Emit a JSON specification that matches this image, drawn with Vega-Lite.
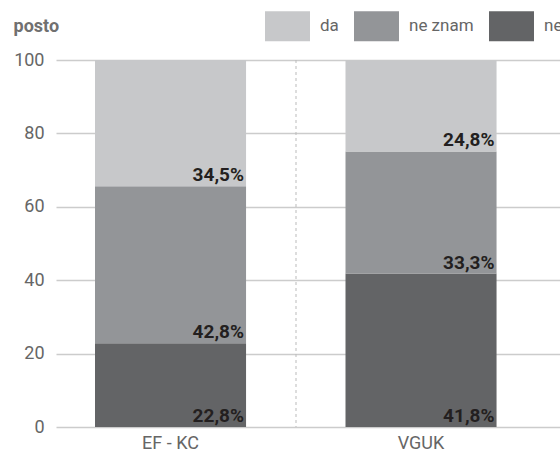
{
  "$schema": "https://vega.github.io/schema/vega-lite/v6.json",
  "autosize": "none",
  "width": 504,
  "height": 367,
  "padding": {"left": 56, "top": 60, "right": 0, "bottom": 24},
  "background": "white",
  "config": {
    "view": {"stroke": null},
    "font": "Roboto"
  },
  "datasets": {
    "bars": [
      {"cat": "EF - KC", "answer": "ne", "ord": 1, "value": 22.8, "lab": "22,8%"},
      {"cat": "EF - KC", "answer": "ne znam", "ord": 2, "value": 42.8, "lab": "42,8%"},
      {"cat": "EF - KC", "answer": "da", "ord": 3, "value": 34.5, "lab": "34,5%"},
      {"cat": "VGUK", "answer": "ne", "ord": 1, "value": 41.8, "lab": "41,8%"},
      {"cat": "VGUK", "answer": "ne znam", "ord": 2, "value": 33.3, "lab": "33,3%"},
      {"cat": "VGUK", "answer": "da", "ord": 3, "value": 24.8, "lab": "24,8%"}
    ],
    "sep": [{"cat": "VGUK"}]
  },
  "layer": [
    {
      "data": {"name": "bars"},
      "transform": [
        {"stack": "value", "groupby": ["cat"], "sort": [{"field": "ord", "order": "ascending"}], "as": ["v0", "v1"]}
      ],
      "mark": {"type": "bar"},
      "encoding": {
        "x": {
          "field": "cat", "type": "nominal", "sort": ["EF - KC", "VGUK"],
          "scale": {"paddingInner": 0.397, "paddingOuter": 0.2045, "align": 0.3807},
          "axis": {
            "title": null, "domain": false, "ticks": false, "grid": false,
            "labelAngle": 0, "labelPadding": 7, "labelFontSize": 18, "labelColor": "#666666",
            "labelFont": "Roboto"
          }
        },
        "y": {
          "field": "v0", "type": "quantitative",
          "scale": {"domain": [0, 100], "nice": false, "clamp": true},
          "axis": {
            "values": [0, 20, 40, 60, 80, 100],
            "domain": false, "ticks": false, "grid": true,
            "gridColor": "#cccccc", "gridWidth": 1.5,
            "labelPadding": 12, "labelFontSize": 18, "labelColor": "#666666",
            "labelFont": "Roboto",
            "title": "posto", "titleAngle": 0, "titleAlign": "left", "titleBaseline": "alphabetic",
            "titleX": -43, "titleY": -29, "titleFontSize": 18, "titleFontWeight": "bold",
            "titleColor": "#707070", "titleFont": "Roboto"
          }
        },
        "y2": {"field": "v1"},
        "color": {
          "field": "answer", "type": "nominal",
          "scale": {"domain": ["da", "ne znam", "ne"], "range": ["#c7c8ca", "#939598", "#636466"]},
          "legend": {
            "title": null, "orient": "none", "direction": "horizontal",
            "legendX": 209, "legendY": -56.5, "padding": 0,
            "symbolType": "M-1,-0.6667L1,-0.6667L1,0.6667L-1,0.6667Z",
            "symbolSize": 2025, "symbolStrokeWidth": 0, "symbolOpacity": 1,
            "labelOffset": 10, "columnPadding": 15,
            "labelFontSize": 17, "labelColor": "#666666",
            "labelFont": "Roboto"
          }
        },
        "order": {"field": "ord"}
      }
    },
    {
      "data": {"name": "bars"},
      "transform": [
        {"stack": "value", "groupby": ["cat"], "sort": [{"field": "ord", "order": "ascending"}], "as": ["v0", "v1"]}
      ],
      "mark": {
        "type": "text", "align": "right", "baseline": "alphabetic", "dx": -2, "dy": -5,
        "fontSize": 19, "fontWeight": "bold", "color": "#231f20",
        "font": "Roboto"
      },
      "encoding": {
        "x": {"field": "cat", "type": "nominal", "sort": ["EF - KC", "VGUK"], "bandPosition": 1},
        "y": {"field": "v0", "type": "quantitative"},
        "text": {"field": "lab"}
      }
    },
    {
      "data": {"name": "sep"},
      "mark": {"type": "rule", "color": "#bbbbbb", "strokeDash": [3, 3], "strokeWidth": 1, "xOffset": -49.5},
      "encoding": {
        "x": {"field": "cat", "type": "nominal", "sort": ["EF - KC", "VGUK"], "bandPosition": 0}
      }
    }
  ]
}
